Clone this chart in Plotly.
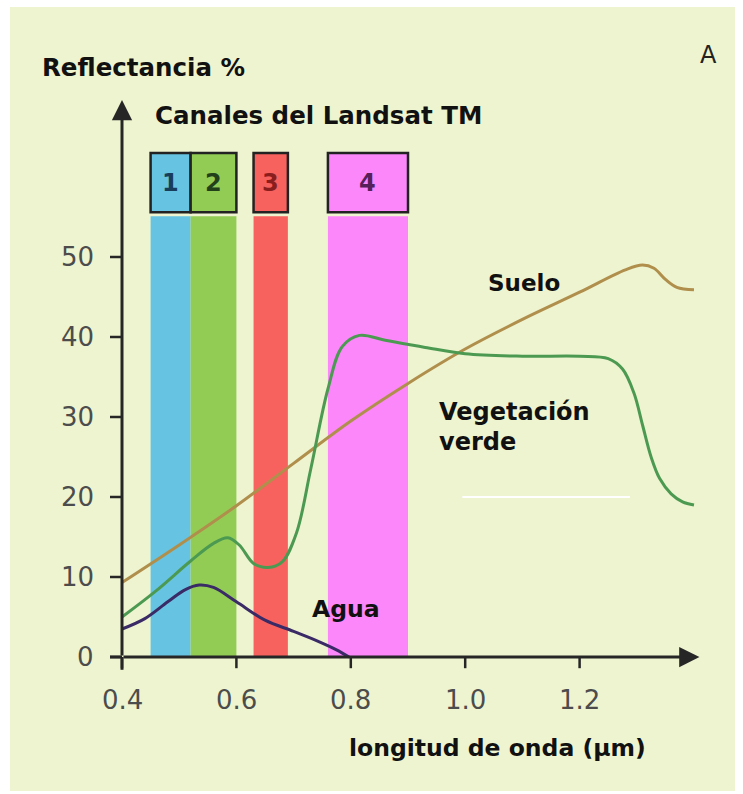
import plotly.graph_objects as go

# ---------------- data ----------------
suelo_x = [0.40, 0.50, 0.60, 0.70, 0.80, 0.90, 1.00, 1.10, 1.20, 1.28, 1.31, 1.33, 1.35, 1.37, 1.40]
suelo_y = [9.3, 14.0, 18.9, 24.2, 29.5, 34.2, 38.5, 42.2, 45.6, 48.4, 49.0, 48.6, 47.2, 46.2, 45.9]

veg_x = [0.40, 0.46, 0.52, 0.56, 0.585, 0.605, 0.63, 0.655, 0.68, 0.705, 0.73, 0.76, 0.785, 0.815, 0.86, 0.93, 1.00,
         1.10, 1.20, 1.25, 1.275, 1.295, 1.31, 1.325, 1.34, 1.36, 1.38, 1.40]
veg_y = [5.0, 8.3, 12.0, 14.2, 14.9, 14.0, 11.7, 11.2, 11.9, 15.5, 23.5, 33.5, 38.8, 40.2, 39.6, 38.7, 37.9,
         37.6, 37.6, 37.3, 36.0, 33.0, 29.0, 25.0, 22.3, 20.4, 19.4, 19.0]

agua_x = [0.40, 0.44, 0.48, 0.51, 0.535, 0.56, 0.60, 0.65, 0.70, 0.745, 0.775, 0.797]
agua_y = [3.5, 4.8, 6.9, 8.4, 9.0, 8.7, 6.9, 4.6, 3.2, 1.9, 0.9, 0.0]

band_names = ["1", "2", "3", "4"]
band_start = [0.45, 0.52, 0.63, 0.76]
band_end = [0.52, 0.60, 0.69, 0.90]
band_colors = ["#66c3e2", "#92cc55", "#f8625e", "#fb87fb"]
band_text_colors = ["#173d5a", "#22401a", "#8a1e1e", "#56205a"]

x_ticks = [0.4, 0.6, 0.8, 1.0, 1.2]
x_tick_labels = ["0.4", "0.6", "0.8", "1.0", "1.2"]
y_ticks = [0, 10, 20, 30, 40, 50]
y_tick_labels = ["0", "10", "20", "30", "40", "50"]

# ---------------- figure ----------------
W, H = 743, 794
# pixel mapping: px = 122 + (x-0.4)*572 ; py = 657 - 8*y
X0 = 0.4 - 122 / 572
X1 = 0.4 + (W - 122) / 572
Y1 = 657 / 8
Y0 = (657 - H) / 8

BG = "#eef4cf"
AX = "#262626"
BOLD = "DejaVu Sans"

fig = go.Figure()

shapes = []
# cream panel
shapes.append(dict(type="rect", xref="paper", yref="paper",
                   x0=10 / W, x1=735 / W, y0=1 - 791 / H, y1=1 - 7 / H,
                   fillcolor=BG, line=dict(width=0), layer="below"))
# spectral bands and their boxes
for s, e, c in zip(band_start, band_end, band_colors):
    shapes.append(dict(type="rect", xref="x", yref="y", x0=s, x1=e, y0=0, y1=55.1,
                       fillcolor=c, line=dict(width=0), layer="below"))
for s, e, c in zip(band_start, band_end, band_colors):
    shapes.append(dict(type="rect", xref="x", yref="y", x0=s, x1=e, y0=55.6, y1=63.0,
                       fillcolor=c, line=dict(color="#222222", width=2.5), layer="below"))
# white scratch line in the picture
shapes.append(dict(type="line", xref="x", yref="y", x0=0.995, x1=1.288, y0=20, y1=20,
                   line=dict(color="#ffffff", width=2), layer="below"))
# tick marks
for t in x_ticks:
    shapes.append(dict(type="line", xref="x", yref="y", x0=t, x1=t, y0=0, y1=-1.4,
                       line=dict(color=AX, width=2.5)))
for t in y_ticks:
    shapes.append(dict(type="line", xref="x", yref="y", x0=0.379, x1=0.4, y0=t, y1=t,
                       line=dict(color=AX, width=2.5)))
# axis stubs past the origin
shapes.append(dict(type="line", xref="x", yref="y", x0=0.4, x1=0.4, y0=-1.6, y1=0,
                   line=dict(color=AX, width=3)))
shapes.append(dict(type="line", xref="x", yref="y", x0=0.379, x1=0.4, y0=0, y1=0,
                   line=dict(color=AX, width=3)))

fig.add_trace(go.Scatter(x=suelo_x, y=suelo_y, mode="lines",
                         line=dict(color="#b08f4c", width=3, shape="spline", smoothing=1.0),
                         hoverinfo="skip"))
fig.add_trace(go.Scatter(x=veg_x, y=veg_y, mode="lines",
                         line=dict(color="#4c9a52", width=3, shape="spline", smoothing=1.0),
                         hoverinfo="skip"))
fig.add_trace(go.Scatter(x=agua_x, y=agua_y, mode="lines",
                         line=dict(color="#3a2a66", width=3, shape="spline", smoothing=1.0),
                         hoverinfo="skip"))

ann = []
# axis arrows
ann.append(dict(x=1.4095, y=0, ax=0.4, ay=0, xref="x", yref="y", axref="x", ayref="y",
                text="", showarrow=True, arrowhead=2, arrowsize=1.35, arrowwidth=3,
                arrowcolor=AX, standoff=0))
ann.append(dict(x=0.4, y=(657 - 100) / 8, ax=0.4, ay=0, xref="x", yref="y", axref="x", ayref="y",
                text="", showarrow=True, arrowhead=2, arrowsize=1.35, arrowwidth=3,
                arrowcolor=AX, standoff=0))
# tick labels
for t, lab in zip(x_ticks, x_tick_labels):
    ann.append(dict(x=t, y=-5.4, text=lab, showarrow=False, xanchor="center", yanchor="middle",
                    font=dict(family="DejaVu Sans", size=26, color="#4c4c4c")))
for t, lab in zip(y_ticks, y_tick_labels):
    ann.append(dict(x=0.355, y=t, text=lab, showarrow=False, xanchor="right", yanchor="middle",
                    font=dict(family="DejaVu Sans", size=26, color="#4c4c4c")))
# band numbers
for n, s, e, c in zip(band_names, band_start, band_end, band_text_colors):
    ann.append(dict(x=(s + e) / 2, y=59.3, text="<b>" + n + "</b>", showarrow=False,
                    xanchor="center", yanchor="middle",
                    font=dict(family=BOLD, size=24, color=c)))

def label(x, y, text, size=23, anchor="left", color="#111111", bold=True):
    ann.append(dict(x=x, y=y, text=("<b>%s</b>" % text) if bold else text, showarrow=False,
                    xanchor=anchor, yanchor="middle",
                    font=dict(family=BOLD, size=size, color=color)))

label(0.2566, 73.75, "Reflectancia %", 24.5)
label(0.4542, 67.75, "Canales del Landsat TM", 24.5)
label(1.036, 46.75, "Suelo", 23)
label(0.9507, 30.6, "Vegetación", 24)
label(0.9507, 26.9, "verde", 24)
label(0.7287, 6.0, "Agua", 23.5)
label(0.7934, -11.4, "longitud de onda (µm)", 23.5)
label(1.4245, 75.2, "A", 24, anchor="center", color="#222222", bold=False)

fig.update_layout(
    width=W, height=H,
    margin=dict(l=0, r=0, t=0, b=0),
    paper_bgcolor="#ffffff", plot_bgcolor="rgba(0,0,0,0)",
    showlegend=False,
    xaxis=dict(range=[X0, X1], visible=False, fixedrange=True),
    yaxis=dict(range=[Y0, Y1], visible=False, fixedrange=True),
    shapes=shapes, annotations=ann,
)

fig.write_html("out.html", config={"staticPlot": True},
               post_script="document.body.style.margin='0';document.body.style.overflow='hidden';")
